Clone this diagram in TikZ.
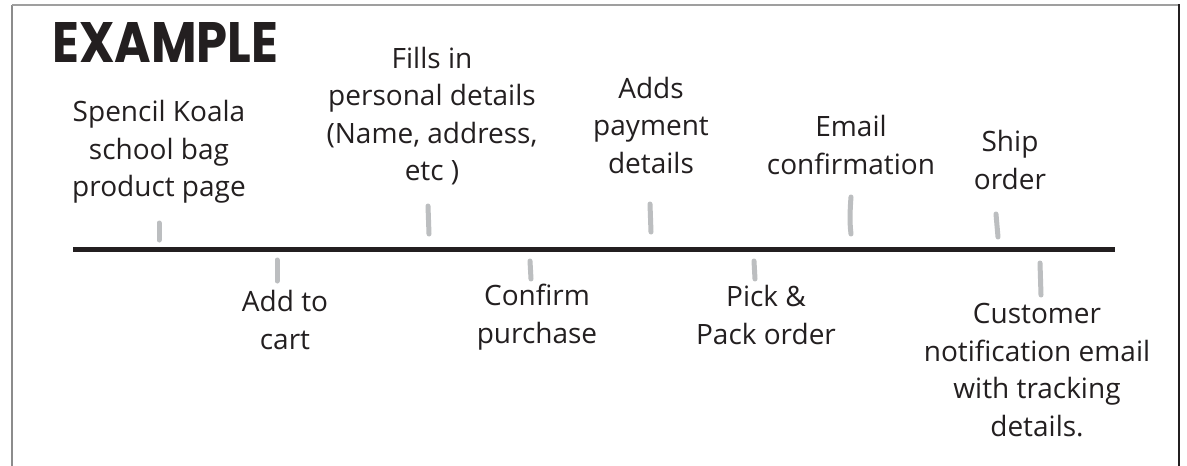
\documentclass[tikz,border=0pt]{standalone}
\usepackage{fontspec}
\usepackage{graphicx}
\newfontfamily\handfont{Open Sans}
\newfontfamily\exfont{Poppins}
\definecolor{ink}{HTML}{231F20}
\definecolor{tickgray}{HTML}{BCBEC0}
\definecolor{framegray}{HTML}{8C8C8C}
\tikzset{
  lbl/.style={align=center, text=ink, inner sep=0pt, font=\handfont\fontsize{28}{37.5}\selectfont},
  tickmark/.style={draw=tickgray, line width=5pt, line cap=round},
  timeline/.style={draw=ink, line width=5pt},
}
\begin{document}
\begin{tikzpicture}[x=1pt,y=-1pt]
\useasboundingbox[fill=white] (0,0) rectangle (1187,466);
% frame
\draw[framegray, line width=2.5pt] (12,466) -- (12,5);
\draw[gray!75, line width=2pt] (12,5) -- (1179,5);
\draw[ink, line width=2pt] (1179,4) -- (1179,466);
% title
\node[anchor=south west, inner sep=0pt, text=ink] (title) at (52,63) {\resizebox{226pt}{40pt}{\exfont\bfseries EXAMPLE}};
% timeline
\coordinate (tlA) at (73,249);
\coordinate (tlB) at (1115,249);
\draw[timeline] (tlA) -- (tlB);
% ticks
\coordinate (a1) at (159,223); \coordinate (a2) at (159,240);
\coordinate (b1) at (277,260); \coordinate (b2) at (277,281);
\coordinate (c1) at (428,206); \coordinate (c2) at (429,234);
\coordinate (d1) at (530,261); \coordinate (d2) at (531,279);
\coordinate (e1) at (650,204); \coordinate (e2) at (651,232);
\coordinate (f1) at (851,197); \coordinate (f2) at (851,234);
\coordinate (g1) at (996,214); \coordinate (g2) at (998,237);
\coordinate (h1) at (754,261); \coordinate (h2) at (755,279);
\coordinate (i1) at (1040,263); \coordinate (i2) at (1041,295);
\draw[tickmark] (a1) -- (a2);
\draw[tickmark] (b1) -- (b2);
\draw[tickmark] (c1) -- (c2);
\draw[tickmark] (d1) -- (d2);
\draw[tickmark] (e1) -- (e2);
\draw[tickmark] (f1) .. controls (850,210) and (849.5,222) .. (f2);
\draw[tickmark] (g1) -- (g2);
\draw[tickmark] (h1) -- (h2);
\draw[tickmark] (i1) -- (i2);
% labels above
\node[lbl] (s1) at (159,152) {Spencil Koala\\school bag\\product page};
\node[lbl] (s2) at (432,116) {Fills in\\personal details\\(Name, address,\\etc )};
\node[lbl] (s3) at (651,125) {Adds\\payment\\details};
\node[lbl] (s4) at (851,145) {Email\\confirmation};
\node[lbl] (s5) at (1010,160) {Ship\\order};
% labels below
\node[lbl] (u1) at (285,320) {Add to\\cart};
\node[lbl] (u2) at (537,317) {Confirm\\purchase};
\node[lbl] (u3) at (766,315) {Pick \&\\Pack order};
\node[lbl] (u4) at (1037,370) {Customer\\notification email\\with tracking\\details.};
\end{tikzpicture}
\end{document}
